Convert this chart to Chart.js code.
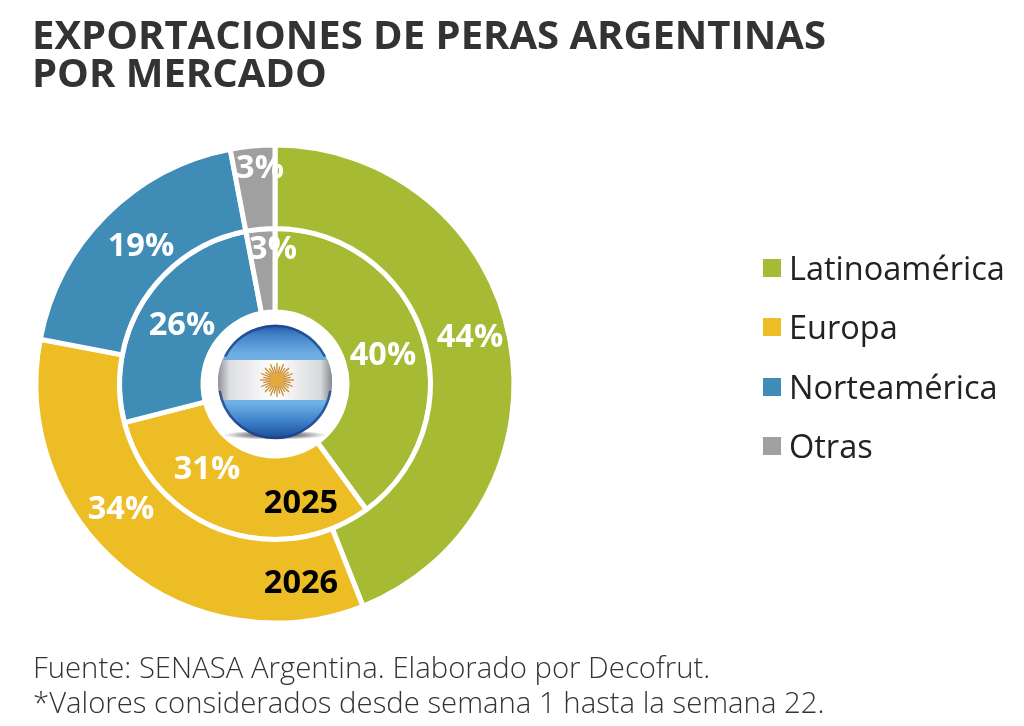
<!DOCTYPE html>
<html>
<head>
<meta charset="utf-8">
<script src="https://cdn.jsdelivr.net/npm/chart.js@4"></script>
<style>
  html, body { margin: 0; padding: 0; background: #fff; overflow: hidden; }
  #wrap { position: relative; width: 1024px; height: 726px; font-family: "Open Sans", sans-serif; }
  #myChart { position: absolute; left: 0; top: 0; }
  #title { position: absolute; left: 32px; top: 15px; margin: 0; font-size: 40px; line-height: 38px; font-weight: 700; color: #333; white-space: nowrap; }
  #footer { position: absolute; left: 33px; top: 650px; font-size: 29.3px; line-height: 35px; font-weight: 300; color: #333; white-space: nowrap; }
  .legend-item { position: absolute; left: 763px; height: 40px; line-height: 40px; font-size: 32.5px; color: #222; white-space: nowrap; }
  .legend-item i { position: absolute; left: 0; top: 11px; width: 18px; height: 18px; }
  .legend-item span { position: absolute; left: 26px; }
</style>
</head>
<body>
<div id="wrap">
  <canvas id="myChart" width="1024" height="726"></canvas>
  <h1 id="title">EXPORTACIONES DE PERAS ARGENTINAS<br>POR MERCADO</h1>
  <div id="footer">Fuente: SENASA Argentina. Elaborado por Decofrut.<br>*Valores considerados desde semana 1 hasta la semana 22.</div>
</div>
<script>
const categories = ["Latinoamérica", "Europa", "Norteamérica", "Otras"];
const values2025 = [40, 31, 26, 3];
const values2026 = [44, 34, 19, 3];
const yearLabels = ["2025", "2026"];
const sliceColors = ["#A6BA33", "#EDBD26", "#3F8CB6", "#A0A0A0"];

// label spots, offset from the centre of the rings
const spots2025 = [[108, -28], [-68, 86], [-93, -58], [-2, -134]];
const spots2026 = [[195, -46], [-154, 126], [-134, -137], [-15, -215]];
const yearSpots = [[26, 120], [26, 200]];

// legend built from the categories
categories.forEach(function (name, i) {
  const item = document.createElement("div");
  item.className = "legend-item";
  item.style.top = 248 + i * 59.3 + "px";
  item.innerHTML = '<i style="background:' + sliceColors[i] + '"></i><span>' + name + "</span>";
  document.getElementById("wrap").appendChild(item);
});

// Flag badge in the hole of the doughnut
function drawFlag(ctx, cx, cy) {
  const r = 57;
  const fy = cy - 2;

  // shadow under the badge
  ctx.save();
  ctx.translate(cx, cy + 51);
  ctx.scale(1, 0.09);
  const shadow = ctx.createRadialGradient(0, 0, 10, 0, 0, 52);
  shadow.addColorStop(0, "rgba(30,30,40,0.85)");
  shadow.addColorStop(1, "rgba(30,30,40,0)");
  ctx.fillStyle = shadow;
  ctx.beginPath();
  ctx.arc(0, 0, 52, 0, Math.PI * 2);
  ctx.fill();
  ctx.restore();

  ctx.save();
  ctx.beginPath();
  ctx.arc(cx, fy, r, 0, Math.PI * 2);
  ctx.clip();

  const blue = ctx.createLinearGradient(0, fy - r, 0, fy + r);
  blue.addColorStop(0, "#1F56A6");
  blue.addColorStop(0.08, "#3F7FC6");
  blue.addColorStop(0.25, "#6FAEE2");
  blue.addColorStop(0.68, "#6FB2E8");
  blue.addColorStop(0.85, "#3C80C8");
  blue.addColorStop(1, "#1C4A94");
  ctx.fillStyle = blue;
  ctx.fillRect(cx - r, fy - r, r * 2, r * 2);

  const white = ctx.createLinearGradient(cx - r, 0, cx + r, 0);
  white.addColorStop(0, "#8E9197");
  white.addColorStop(0.1, "#DDDEE1");
  white.addColorStop(0.5, "#FFFFFF");
  white.addColorStop(0.9, "#D8D9DC");
  white.addColorStop(1, "#85888E");
  ctx.fillStyle = white;
  ctx.fillRect(cx - r, fy - 22, r * 2, 40);
  ctx.restore();

  // rim
  ctx.strokeStyle = "rgba(30,66,136,0.8)";
  ctx.lineWidth = 2.5;
  ctx.beginPath();
  ctx.arc(cx, fy, r - 1, 0.05 * Math.PI, 0.95 * Math.PI);
  ctx.stroke();
  ctx.beginPath();
  ctx.arc(cx, fy, r - 1, 1.15 * Math.PI, 1.85 * Math.PI);
  ctx.stroke();

  // sun
  const sx = cx + 2;
  const sy = fy - 2;
  ctx.strokeStyle = "#CB8B2C";
  ctx.lineWidth = 1.3;
  for (let a = 0; a < 32; a++) {
    const t = (a / 32) * Math.PI * 2;
    const len = a % 2 ? 14 : 17;
    ctx.beginPath();
    ctx.moveTo(sx + Math.cos(t) * 6, sy + Math.sin(t) * 6);
    ctx.lineTo(sx + Math.cos(t) * len, sy + Math.sin(t) * len);
    ctx.stroke();
  }
  ctx.fillStyle = "#E3A93F";
  ctx.beginPath();
  ctx.arc(sx, sy, 7, 0, Math.PI * 2);
  ctx.fill();
}

// Percent labels, year labels and the flag
const ringLabels = {
  id: "ringLabels",
  afterDraw: function (chart) {
    const ctx = chart.ctx;
    const arc = chart.getDatasetMeta(0).data[0];
    const cx = arc.x;
    const cy = arc.y;
    ctx.save();
    ctx.textAlign = "center";
    ctx.textBaseline = "middle";
    ctx.font = '700 32.5px "Open Sans"';
    ctx.fillStyle = "#fff";
    values2025.forEach(function (v, i) {
      ctx.fillText(v + "%", cx + spots2025[i][0], cy + spots2025[i][1]);
    });
    values2026.forEach(function (v, i) {
      ctx.fillText(v + "%", cx + spots2026[i][0], cy + spots2026[i][1]);
    });
    ctx.fillStyle = "#000";
    yearLabels.forEach(function (y, i) {
      ctx.fillText(y, cx + yearSpots[i][0], cy + yearSpots[i][1]);
    });
    ctx.restore();
    drawFlag(ctx, cx, cy);
  },
};

const ctx = document.getElementById("myChart").getContext("2d");
new Chart(ctx, {
  type: "doughnut",
  data: {
    labels: categories,
    datasets: [
      // the first dataset is the outer ring
      { label: yearLabels[1], data: values2026, backgroundColor: sliceColors, borderColor: "#fff", borderWidth: 5 },
      { label: yearLabels[0], data: values2025, backgroundColor: sliceColors, borderColor: "#fff", borderWidth: 5 },
    ],
  },
  options: {
    responsive: false,
    animation: false,
    cutout: 72,
    layout: { padding: { left: 33.5, top: 142.5, right: 507.5, bottom: 100.5 } },
    plugins: { legend: { display: false }, tooltip: { enabled: false } },
  },
  plugins: [ringLabels],
});
</script>
</body>
</html>
